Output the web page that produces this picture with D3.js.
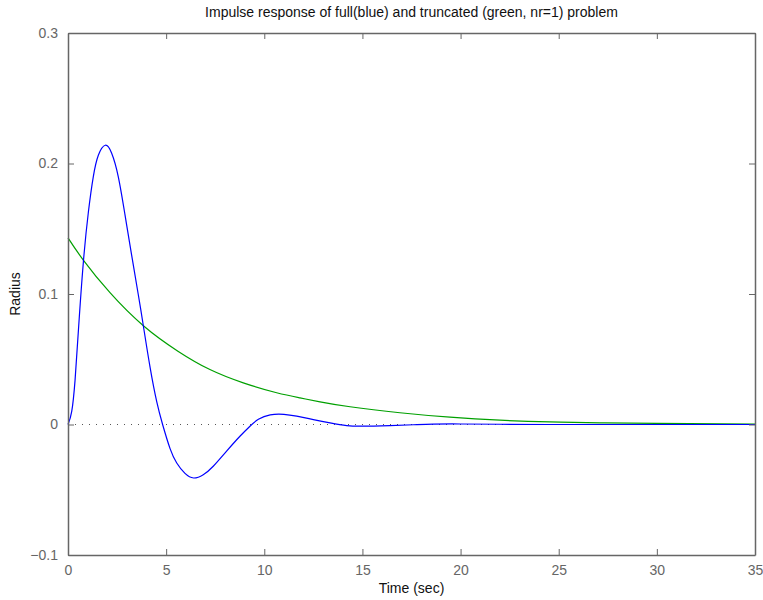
<!DOCTYPE html>
<html>
<head>
<meta charset="utf-8">
<script src="https://cdn.jsdelivr.net/npm/d3@7"></script>
<style>
  body { margin: 0; background: #fff; }
  svg text { font-family: "Liberation Sans", Arial, sans-serif; }
</style>
</head>
<body>
<svg width="763" height="600"></svg>
<script>
// values
const fullTime  = [0,0.19,0.36,0.53,0.78,1.04,1.29,1.55,1.9,2.22,2.56,2.9,3.24,3.58,3.84,4.18,4.52,4.82,5.2,5.54,5.96,6.4,6.89,7.4,8.08,8.76,9.27,9.7,10.3,11.0,11.65,12.5,13.35,14.2,15.0,16.4,17.6,18.6,20,22,25,28,31,35];
const fullValue = [0,0.010,0.034,0.072,0.124,0.163,0.190,0.2065,0.214,0.208,0.190,0.161,0.130,0.0996,0.0755,0.0440,0.0175,0,-0.0185,-0.0295,-0.0375,-0.041,-0.0385,-0.032,-0.0204,-0.009,-0.0013,0.0040,0.0074,0.0078,0.0064,0.0038,0.0013,-0.0008,-0.0013,-0.0008,-0.0002,0.0003,0.0004,0.0002,0,0,0,0];
const truncTime  = [0,0.78,2.14,3.84,5.6,7.23,8.93,10.63,11.82,12.84,14.37,16.91,19.46,22,24.55,27.1,30,35];
const truncValue = [0.143,0.126,0.101,0.0757,0.0562,0.0421,0.0319,0.0243,0.0204,0.0174,0.0136,0.009,0.0056,0.0033,0.002,0.0013,0.0008,0.0003];
const xTicks = [0,5,10,15,20,25,30,35];
const yTicks = [-0.1,0,0.1,0.2,0.3];

const svg = d3.select("svg");
const m = {left: 68, right: 8, top: 33, bottom: 45};
const W = 763, H = 600;

const x = d3.scaleLinear().domain([0,35]).range([m.left, W - m.right]);
const y = d3.scaleLinear().domain([-0.1,0.3]).range([H - m.bottom, m.top]);

const axisColor = "#666";
const fmtY = d => d < 0 ? "\u2212" + Math.abs(d) : String(d);

// zero reference line (dotted)
svg.append("line")
   .attr("x1", x(0)).attr("x2", x(35))
   .attr("y1", y(0)).attr("y2", y(0))
   .attr("stroke", "#555").attr("stroke-width", 1)
   .attr("stroke-dasharray", "1,6");

const line = d3.line()
  .x(d => x(d[0]))
  .y(d => y(d[1]))
  .curve(d3.curveNatural);

svg.append("path")
   .datum(truncTime.map((t,i) => [t, truncValue[i]]))
   .attr("fill", "none").attr("stroke", "rgb(0,160,0)").attr("stroke-width", 1.2)
   .attr("d", line);

svg.append("path")
   .datum(fullTime.map((t,i) => [t, fullValue[i]]))
   .attr("fill", "none").attr("stroke", "#0000ff").attr("stroke-width", 1.2)
   .attr("d", line);

// axes: ticks inward on all four sides
const axes = [
  d3.axisBottom(x).tickValues(xTicks).tickSizeInner(-6).tickSizeOuter(0).tickPadding(10).tickFormat(d3.format("d")),
  d3.axisTop(x).tickValues(xTicks).tickSizeInner(-6).tickSizeOuter(0).tickFormat(""),
  d3.axisLeft(y).tickValues(yTicks).tickSizeInner(-6).tickSizeOuter(0).tickPadding(10).tickFormat(fmtY),
  d3.axisRight(y).tickValues(yTicks).tickSizeInner(-6).tickSizeOuter(0).tickFormat("")
];
const pos = [
  `translate(0,${H - m.bottom})`,
  `translate(0,${m.top})`,
  `translate(${m.left},0)`,
  `translate(${W - m.right},0)`
];
axes.forEach((a,i) => {
  const g = svg.append("g").attr("transform", pos[i]).call(a);
  g.select(".domain").attr("stroke", axisColor).attr("stroke-width", 1.5);
  g.selectAll(".tick line").attr("stroke", axisColor);
  g.selectAll(".tick text").attr("fill", axisColor).style("font-size", "14px");
});

svg.append("text")
   .attr("x", (x(0) + x(35)) / 2).attr("y", 17)
   .attr("text-anchor", "middle").style("font-size", "14px").attr("fill", "#111")
   .text("Impulse response of full(blue) and truncated (green, nr=1) problem");

svg.append("text")
   .attr("x", (x(0) + x(35)) / 2).attr("y", 593)
   .attr("text-anchor", "middle").style("font-size", "14px").attr("fill", "#111")
   .text("Time (sec)");

svg.append("text")
   .attr("transform", `translate(20,${y(0.1)}) rotate(-90)`)
   .attr("text-anchor", "middle").style("font-size", "14px").attr("fill", "#111")
   .text("Radius");
</script>
</body>
</html>
